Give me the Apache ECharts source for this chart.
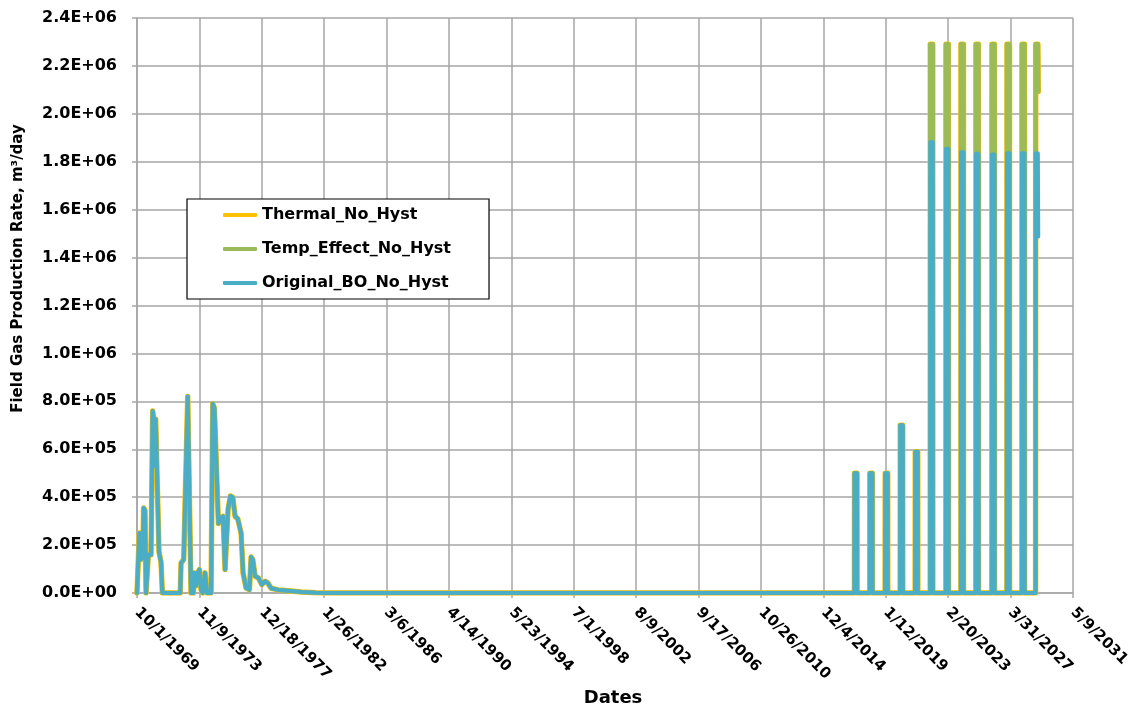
<!DOCTYPE html>
<html lang="en">
<head>
    <meta charset="UTF-8">
    <title>Field Gas Production Rate</title>
    <script src="https://cdn.jsdelivr.net/npm/echarts@6/dist/echarts.min.js"></script>
    <style>
        html, body { margin: 0; padding: 0; background: #fff; }
        #chart { width: 1145px; height: 705px; }
    </style>
</head>
<body>
<div id="chart"></div>
<script type="text/javascript">
    // x values are days counted from 10/1/1969 (first tick of the axis)
    var startDate = Date.UTC(1969, 9, 1);
    var seriesNames = ['Thermal_No_Hyst', 'Temp_Effect_No_Hyst', 'Original_BO_No_Hyst'];

    // early production, the three runs lie on top of each other
    var earlyDays = [0, 16, 56, 96, 136, 160, 192, 217, 257, 273, 337, 377, 401, 425, 449, 497, 529, 577, 610,
        1040, 1059, 1123, 1219, 1259, 1299, 1355, 1379, 1420, 1460, 1500, 1540, 1580, 1636, 1684, 1780,
        1821, 1861, 1957, 2005, 2069, 2117, 2157, 2189, 2246, 2302, 2358, 2422, 2502, 2550, 2622, 2703,
        2743, 2783, 2839, 2919, 3000, 3080, 3144, 3224, 3400, 3700, 3950, 4300, 4700];
    var earlyRate = [0, 0, 250000, 140000, 150000, 355000, 345000, 0, 0, 160000, 160000, 760000, 730000, 530000, 725000, 720000, 170000, 130000, 0,
        0, 125000, 140000, 820000, 820000, 0, 0, 84000, 30000, 84000, 98000, 14000, 0, 84000, 0, 0,
        790000, 770000, 290000, 310000, 320000, 98000, 98000, 350000, 405000, 400000, 320000, 310000, 250000, 84000, 21000, 14000,
        150000, 140000, 70000, 63000, 35000, 49000, 42000, 20000, 13000, 8000, 4000, 1000, 0];

    // yearly production pulses from 2017 on
    var pulseDays = [
        17246, 17248, 17308, 17310,
        17615, 17617, 17677, 17679,
        17984, 17986, 18046, 18048,
        18345, 18347, 18407, 18409,
        18706, 18708, 18768, 18770,
        19067, 19069, 19129, 19131,
        19444, 19446, 19506, 19508,
        19805, 19807, 19867, 19869,
        20165, 20167, 20227, 20229,
        20550, 20552, 20612, 20614,
        20911, 20913, 20973, 20975,
        21272, 21274, 21334, 21336,
        21601, 21603, 21655, 21665];
    var thermalPulse = [
        0, 500000, 500000, 0,
        0, 500000, 500000, 0,
        0, 500000, 500000, 0,
        0, 700000, 700000, 0,
        0, 590000, 590000, 0,
        0, 2290000, 2290000, 0,
        0, 2290000, 2290000, 0,
        0, 2290000, 2290000, 0,
        0, 2290000, 2290000, 0,
        0, 2290000, 2290000, 0,
        0, 2290000, 2290000, 0,
        0, 2290000, 2290000, 0,
        0, 2290000, 2290000, 2093000];
    var tempPulse = [
        0, 500000, 500000, 0,
        0, 500000, 500000, 0,
        0, 500000, 500000, 0,
        0, 700000, 700000, 0,
        0, 590000, 590000, 0,
        0, 2290000, 2290000, 0,
        0, 2290000, 2290000, 0,
        0, 2290000, 2290000, 0,
        0, 2290000, 2290000, 0,
        0, 2290000, 2290000, 0,
        0, 2290000, 2290000, 0,
        0, 2290000, 2290000, 0,
        0, 2290000, 2290000, 2093000];
    var originalPulse = [
        0, 500000, 500000, 0,
        0, 500000, 500000, 0,
        0, 500000, 500000, 0,
        0, 700000, 700000, 0,
        0, 590000, 590000, 0,
        0, 1882000, 1882000, 0,
        0, 1854000, 1854000, 0,
        0, 1840000, 1840000, 0,
        0, 1833000, 1833000, 0,
        0, 1830000, 1830000, 0,
        0, 1836000, 1836000, 0,
        0, 1836000, 1836000, 0,
        0, 1836000, 1836000, 1488000];

    var colors = ['#FFC000', '#9BBB59', '#4BACC6'];
    var widths = [5.5, 4.5, 4];
    var labelFont = 'DejaVu Sans';

    function buildData(pulse) {
        var out = [];
        for (var i = 0; i < earlyDays.length; i++) out.push([earlyDays[i], earlyRate[i]]);
        for (var j = 0; j < pulseDays.length; j++) out.push([pulseDays[j], pulse[j]]);
        return out;
    }

    function dateLabel(v) {
        var d = new Date(startDate + v * 86400000);
        return (d.getUTCMonth() + 1) + '/' + d.getUTCDate() + '/' + d.getUTCFullYear();
    }

    function sciLabel(v) {
        return v.toExponential(1).toUpperCase().replace(/E([+-])(\d)$/, 'E$10$2');
    }

    var pulses = [thermalPulse, tempPulse, originalPulse];
    var series = seriesNames.map(function (name, k) {
        return {
            name: name,
            type: 'line',
            symbol: 'none',
            showSymbol: false,
            data: buildData(pulses[k]),
            lineStyle: { color: colors[k], width: widths[k], cap: 'round', join: 'round' },
            itemStyle: { color: colors[k] }
        };
    });

    var myEcharts = echarts.init(document.getElementById('chart'));
    var option = {
        animation: false,
        backgroundColor: '#fff',
        grid: { left: 137, right: 72, top: 18, bottom: 112, outerBoundsMode: 'none' },
        legend: {
            orient: 'vertical',
            left: 187,
            top: 199,
            data: seriesNames,
            icon: 'roundRect',
            backgroundColor: '#fff',
            borderColor: '#000',
            borderWidth: 1.2,
            padding: [6, 38, 6, 36],
            itemGap: 14,
            itemWidth: 34,
            itemHeight: 4,
            textStyle: { fontFamily: labelFont, fontWeight: 'bold', fontSize: 16, lineHeight: 20, color: '#000' }
        },
        xAxis: {
            type: 'value',
            min: 0,
            max: 22500,
            interval: 1500,
            name: 'Dates',
            nameLocation: 'middle',
            nameGap: 92,
            nameTextStyle: { fontFamily: labelFont, fontWeight: 'bold', fontSize: 18, color: '#000', padding: [0, 0, 0, 16] },
            axisLine: { lineStyle: { color: '#a6a6a6', width: 1.5 } },
            axisTick: { length: 5, lineStyle: { color: '#a6a6a6', width: 1.5 } },
            axisLabel: {
                rotate: -45,
                margin: 17,
                formatter: dateLabel,
                fontFamily: labelFont, fontWeight: 'bold', fontSize: 15, color: '#000'
            },
            splitLine: { show: true, lineStyle: { color: '#a6a6a6', width: 1.5 } }
        },
        yAxis: {
            type: 'value',
            min: 0,
            max: 2400000,
            interval: 200000,
            name: 'Field Gas Production Rate, m³/day',
            nameLocation: 'middle',
            nameGap: 111,
            nameTextStyle: { fontFamily: labelFont, fontWeight: 'bold', fontSize: 15, color: '#000', padding: [0, 0, 0, 74] },
            axisLine: { show: true, lineStyle: { color: '#a6a6a6', width: 1.5 } },
            axisTick: { show: true, length: 5, lineStyle: { color: '#a6a6a6', width: 1.5 } },
            axisLabel: {
                margin: 20,
                formatter: sciLabel,
                fontFamily: labelFont, fontWeight: 'bold', fontSize: 16, color: '#000'
            },
            splitLine: { show: true, lineStyle: { color: '#a6a6a6', width: 1.5 } }
        },
        series: series
    };
    myEcharts.setOption(option);
</script>
</body>
</html>
